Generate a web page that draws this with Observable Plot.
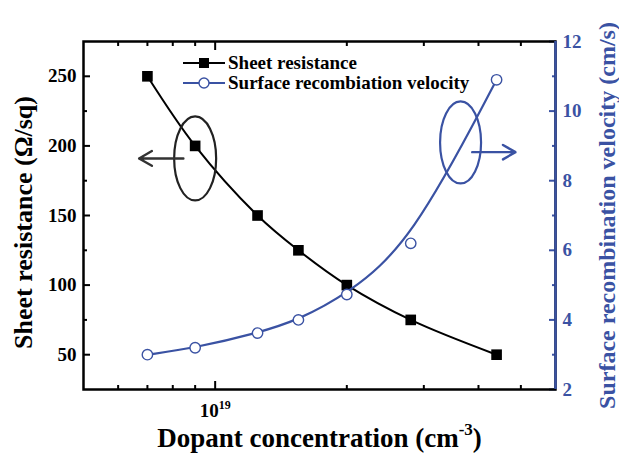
<!DOCTYPE html>
<html><head><meta charset="utf-8">
<script src="https://cdn.jsdelivr.net/npm/d3@7"></script>
<script src="https://cdn.jsdelivr.net/npm/@observablehq/plot@0.6"></script>
<style>
body{margin:0;background:#fff;}
#chart{position:relative;width:619px;height:463px;font-family:"Liberation Serif","Times New Roman",serif;font-weight:bold;}
#legend{position:absolute;left:180px;top:52px;}
</style></head><body><div id="chart"></div>
<script>
// ---- data ----
const concentration = [7e18, 9e18, 1.25e19, 1.55e19, 2e19, 2.8e19, 4.4e19];   // cm^-3
const sheetResistance = [250, 200, 150, 125, 100, 75, 50];                     // ohm/sq
const recombVelocity = [3.0, 3.2, 3.62, 4.0, 4.73, 6.2, 10.9];                 // cm/s

// axes
const xDomain = [5e18, 6e19];
const xMajorTicks = [1e19];
const xMinorTicks = [6e18, 7e18, 8e18, 9e18, 2e19, 3e19, 4e19, 5e19];
const leftDomain = [25, 275];
const leftMajorTicks = [50, 100, 150, 200, 250];
const leftMinorTicks = [75, 125, 175, 225];
const rightDomain = [2, 12];
const rightMajorTicks = [2, 4, 6, 8, 10, 12];
const rightMinorTicks = [3, 5, 7, 9, 11];

// texts
const xTitle = "Dopant concentration (cm^{-3})";
const leftTitle = "Sheet resistance (\u03A9/sq)";
const rightTitle = "Surface recombination velocity (cm/s)";
const seriesNames = ["Sheet resistance", "Surface recombiation velocity"];

// annotation anchors (data units: concentration, left / right axis value)
const leftCallout = {x: 9e18, y: 191, arrowFrom: 8.46e18, arrowTo: 6.7e18};
const rightCallout = {x: 3.64e19, y: 9.1, arrowFrom: 3.87e19, arrowTo: 4.86e19, arrowY: 8.82};

// ---- build ----
const blue = "#3a52a3";
const tickFont = 19, xTitleFont = 27;
const kLR = (leftDomain[1] - leftDomain[0]) / (rightDomain[1] - rightDomain[0]);
const toLeft = v => leftDomain[0] + (v - rightDomain[0]) * kLR;
const fromLeft = y => rightDomain[0] + (y - leftDomain[0]) / kLR;

const resData = concentration.map((c, i) => ({c, v: sheetResistance[i]}));
const srvData = concentration.map((c, i) => ({c, v: toLeft(recombVelocity[i])}));

const ellipse = {
  draw(ctx, size) {
    const rx = Math.sqrt(size / Math.PI), ry = rx * 2, k = 0.5523;
    ctx.moveTo(rx, 0);
    ctx.bezierCurveTo(rx, ry * k, rx * k, ry, 0, ry);
    ctx.bezierCurveTo(-rx * k, ry, -rx, ry * k, -rx, 0);
    ctx.bezierCurveTo(-rx, -ry * k, -rx * k, -ry, 0, -ry);
    ctx.bezierCurveTo(rx * k, -ry, rx, -ry * k, rx, 0);
    ctx.closePath();
  }
};

const none = () => "";
const plot = Plot.plot({
  width: 619, height: 463,
  marginLeft: 83, marginRight: 64, marginTop: 41, marginBottom: 74,
  style: {fontFamily: '"Liberation Serif", "Times New Roman", serif', fontWeight: "bold", fontSize: "19px", background: "white", overflow: "visible"},
  x: {type: "log", domain: xDomain},
  y: {domain: leftDomain},
  marks: [
    Plot.axisX({anchor: "bottom", ticks: xMinorTicks, tickSize: -4, tickFormat: none, strokeWidth: 2, label: null}),
    Plot.axisX({anchor: "bottom", ticks: xMajorTicks, tickSize: -8, tickPadding: 22, strokeWidth: 2,
      tickFormat: d => "10^{" + Math.round(Math.log10(d)) + "}", fontSize: tickFont, label: null}),
    Plot.axisX({anchor: "top", ticks: xMinorTicks, tickSize: -4, tickFormat: none, strokeWidth: 2, label: null}),
    Plot.axisX({anchor: "top", ticks: xMajorTicks, tickSize: -8, tickFormat: none, strokeWidth: 2, label: null}),
    Plot.axisY({anchor: "left", ticks: leftMajorTicks, tickSize: -7, tickPadding: 14, strokeWidth: 2, fontSize: tickFont, label: null}),
    Plot.axisY({anchor: "left", ticks: leftMinorTicks, tickSize: -4, tickFormat: none, strokeWidth: 2, label: null}),
    Plot.axisY({anchor: "right", ticks: rightMajorTicks.map(toLeft), tickSize: -7, tickPadding: 14, strokeWidth: 2, fontSize: tickFont,
      tickFormat: d => String(Math.round(fromLeft(d))), color: blue, label: null}),
    Plot.axisY({anchor: "right", ticks: rightMinorTicks.map(toLeft), tickSize: -4, tickFormat: none, strokeWidth: 2, color: blue, label: null}),
    Plot.frame({stroke: "black", strokeWidth: 2.5}),
    Plot.ruleX([xDomain[1]], {stroke: blue, strokeWidth: 2.5}),

    // sheet resistance
    Plot.line(resData, {x: "c", y: "v", curve: "catmull-rom", stroke: "black", strokeWidth: 2}),
    Plot.dot(resData, {x: "c", y: "v", symbol: "square", r: 6, fill: "black"}),
    // surface recombination velocity
    Plot.line(srvData, {x: "c", y: "v", curve: "basis", stroke: blue, strokeWidth: 2.2}),
    Plot.dot(srvData, {x: "c", y: "v", r: 5.2, fill: "white", stroke: blue, strokeWidth: 1.4}),

    // callouts
    Plot.dot([leftCallout], {x: "x", y: "y", symbol: ellipse, r: 21, fill: "none", stroke: "#222", strokeWidth: 2.2}),
    Plot.arrow([leftCallout], {x1: "arrowFrom", x2: "arrowTo", y1: "y", y2: "y", stroke: "#333", strokeWidth: 2.4, headLength: 12}),
    Plot.dot([rightCallout], {x: "x", y: d => toLeft(d.y), symbol: ellipse, r: 20.5, fill: "none", stroke: blue, strokeWidth: 2.2}),
    Plot.arrow([rightCallout], {x1: "arrowFrom", x2: "arrowTo", y1: d => toLeft(d.arrowY), y2: d => toLeft(d.arrowY), stroke: blue, strokeWidth: 2.4, headLength: 12}),

    // axis titles
    Plot.text([xTitle], {text: d => d, frameAnchor: "bottom", textAnchor: "middle", dy: 57, fontSize: xTitleFont, fill: "black"}),
    Plot.text([leftTitle], {text: d => d, frameAnchor: "left", textAnchor: "middle", rotate: -90, dx: -60, dy: 7, fontSize: 26, fill: "black"}),
    Plot.text([rightTitle], {text: d => d, frameAnchor: "right", textAnchor: "middle", rotate: -90, dx: 52, dy: 0, fontSize: 24, fill: blue})
  ]
});

// superscripts: turn "a^{b}c" into tspans
d3.select(plot).selectAll("text").each(function() {
  const el = this;
  const targets = el.querySelector("tspan") ? Array.from(el.querySelectorAll("tspan")) : [el];
  targets.forEach(t => {
    const s = t.textContent;
    const m = s.match(/^(.*)\^\{([^}]*)\}(.*)$/);
    if (!m) return;
    const fs = s.startsWith("Dopant") ? xTitleFont : tickFont;
    t.textContent = "";
    const ns = "http://www.w3.org/2000/svg";
    const a = document.createElementNS(ns, "tspan"); a.textContent = m[1]; a.setAttribute("font-size", fs); t.appendChild(a);
    const b = document.createElementNS(ns, "tspan"); b.textContent = m[2];
    b.setAttribute("font-size", Math.round(fs * 0.62)); b.setAttribute("dy", (-fs * 0.42).toFixed(1)); t.appendChild(b);
    if (m[3]) { const c = document.createElementNS(ns, "tspan"); c.textContent = m[3]; c.setAttribute("font-size", fs); c.setAttribute("dy", (fs * 0.42).toFixed(1)); t.appendChild(c); }
  });
});

const chart = document.getElementById("chart");
chart.appendChild(plot);

// legend
const lg = d3.select(chart).append("svg").attr("id", "legend").attr("width", 320).attr("height", 44)
  .style("font-family", '"Liberation Serif", "Times New Roman", serif').style("font-weight", "bold");
const rows = [{name: seriesNames[0], color: "black", sym: "square"}, {name: seriesNames[1], color: blue, sym: "circle"}];
rows.forEach((r, i) => {
  const y = 11 + i * 20;
  lg.append("line").attr("x1", 3).attr("x2", 45).attr("y1", y).attr("y2", y).attr("stroke", r.color).attr("stroke-width", 2);
  if (r.sym === "square") lg.append("rect").attr("x", 19).attr("y", y - 5).attr("width", 10).attr("height", 10).attr("fill", "black");
  else lg.append("circle").attr("cx", 24).attr("cy", y).attr("r", 5).attr("fill", "white").attr("stroke", blue).attr("stroke-width", 1.4);
  lg.append("text").attr("x", 48).attr("y", y).attr("dy", "0.33em").attr("font-size", 19).attr("fill", "black").text(r.name);
});
</script></body></html>
